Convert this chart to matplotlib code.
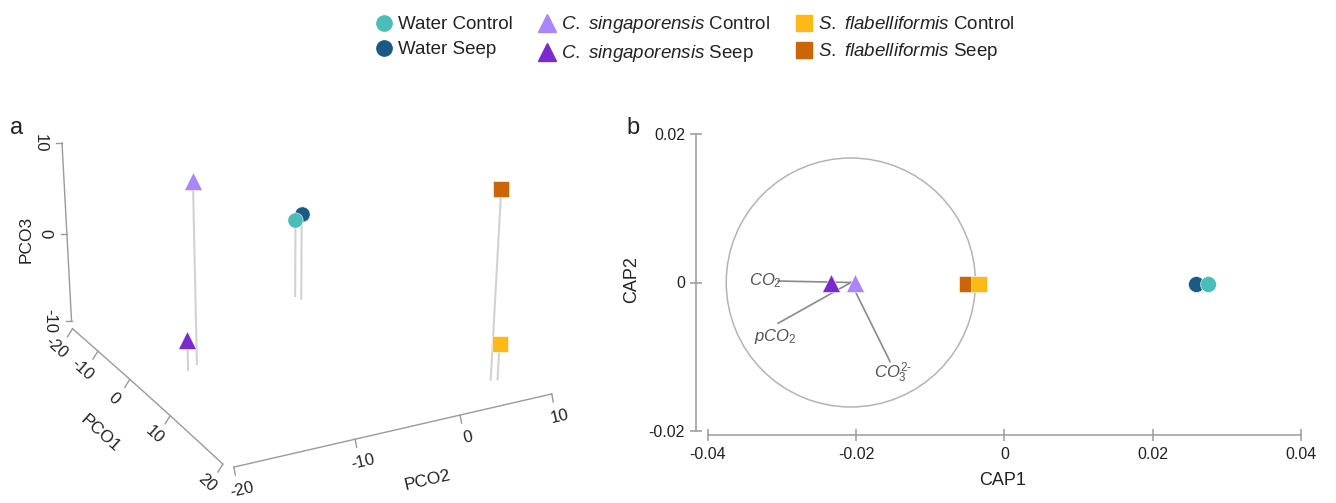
import numpy as np
import matplotlib
matplotlib.use("Agg")
import matplotlib.pyplot as plt
from matplotlib.lines import Line2D
from matplotlib.patches import Circle

plt.rcParams['font.family'] = ['Liberation Sans', 'DejaVu Sans']
plt.rcParams['mathtext.fontset'] = 'custom'
plt.rcParams['mathtext.rm'] = 'Liberation Sans'
plt.rcParams['mathtext.it'] = 'Liberation Sans:italic'

# ---------------- data ----------------
groups = ["Water Control", "Water Seep",
          "C. singaporensis Control", "C. singaporensis Seep",
          "S. flabelliformis Control", "S. flabelliformis Seep"]
legend_labels = ["Water Control", "Water Seep",
                 r"$\mathit{C.}$ $\mathit{singaporensis}$ Control",
                 r"$\mathit{C.}$ $\mathit{singaporensis}$ Seep",
                 r"$\mathit{S.}$ $\mathit{flabelliformis}$ Control",
                 r"$\mathit{S.}$ $\mathit{flabelliformis}$ Seep"]
colors = ["#4ABDB8", "#1A5A84", "#AA85FB", "#7A2BD0", "#FDBA17", "#CC6408"]
markers = ["o", "o", "^", "^", "s", "s"]

# panel a: PCO scores
pco1 = [-21.4, -19.6, -1.2, 0.0, 15.3, 15.1]
pco2 = [11.7, 11.5, -12.6, -14.1, 9.3, 8.7]
pco3 = [0.1, 1.0, 7.3, -7.1, -6.85, 6.4]
pco1_ticks = [-20, -10, 0, 10, 20]
pco2_ticks = [-20, -10, 0, 10]
pco3_ticks = [-10, 0, 10]

# panel b: CAP scores
cap1 = [0.0274, 0.0258, -0.0202, -0.0234, -0.0034, -0.0050]
cap2 = [-0.0002, -0.0002, 0.0, 0.0, -0.0002, -0.0002]
cap1_ticks = [-0.04, -0.02, 0, 0.02, 0.04]
cap2_ticks = [-0.02, 0, 0.02]
cap1_ticklabels = ["-0.04", "-0.02", "0", "0.02", "0.04"]
cap2_ticklabels = ["-0.02", "0", "0.02"]

vec_names = [r"$\mathit{CO_2}$", r"$\mathit{pCO_2}$", r"$\mathit{CO_3^{2\text{-}}}$"]
vec_x = [-0.0305, -0.0305, -0.0154]
vec_y = [0.0002, -0.0055, -0.0107]
vec_label_x = [-0.0322, -0.0309, -0.0150]
vec_label_y = [0.0003, -0.0073, -0.0122]
vec_origin = (-0.0207, 0.0)
circle_radius = 0.0168

# ---------------- figure ----------------
W, H = 1336, 503
fig = plt.figure(figsize=(W / 100, H / 100), dpi=100)

TXT = "#222222"
AXC = "#9a9a9a"

# ---- panel a: perspective 3-D box drawn on a pixel canvas ----
CAM_X = np.array([312.0, 17.15, 97.5, -7.0])
CAM_Y = np.array([349.2, -17.0, 4.2, -105.0])
CAM_W = np.array([1.0, -0.1212, 0.0511, -0.025])


def project(p1, p2, p3):
    p1, p2, p3 = np.broadcast_arrays(np.asarray(p1, float), np.asarray(p2, float),
                                     np.asarray(p3, float))
    h = np.stack([np.ones_like(p1), p1 / 10.0, p2 / 10.0, (p3 + 10.0) / 10.0])
    w = CAM_W @ h
    return (CAM_X @ h) / w, (CAM_Y @ h) / w


def project_pco1_axis(p1):
    # PCO1 axis is drawn slightly off the box edge near the front corner
    p1 = np.asarray(p1, float)
    u, v = project(p1, -20, -10)
    t = ((p1 + 20) / 40.0) ** 4
    return u - 8 * t, v - 4 * t


axa = fig.add_axes([0, 0, 620 / W, 1])
axa.set_xlim(0, 620)
axa.set_ylim(H, 0)
axa.axis("off")

# z axis (PCO3) at back-left edge
zoff = np.array([-1.0, -8.0])
u, v = project(-20, -20, np.array([-10, 10]))
axa.plot(u + zoff[0], v + zoff[1], color=AXC, lw=1)
u, v = project(-20, -20, pco3_ticks)
for ui, vi, t in zip(u + zoff[0], v + zoff[1], pco3_ticks):
    axa.plot([ui, ui - 6], [vi, vi], color=AXC, lw=1)
    axa.text(ui - 22, vi, f"{t}", rotation=-90, ha="center", va="center",
             fontsize=12, color=TXT)
u, v = project(-20, -20, 0)
axa.text(u - 42, v - 2, "PCO3", rotation=90, ha="center", va="center",
         fontsize=12.5, color=TXT)

# PCO1 axis
u, v = project_pco1_axis(np.linspace(-20, 20, 41))
axa.plot(u, v, color=AXC, lw=1)
u, v = project_pco1_axis(pco1_ticks)
for ui, vi, t in zip(u, v, pco1_ticks):
    axa.plot([ui, ui - 5], [vi, vi + 8], color=AXC, lw=1)
    axa.text(ui - 16, vi + 19, f"{t}", rotation=-42, ha="center", va="center",
             fontsize=12, color=TXT, rotation_mode="anchor")
u, v = project(0, -20, -10)
axa.text(u - 30, v + 54, "PCO1", rotation=-42, ha="center", va="center",
         fontsize=12.5, color=TXT, rotation_mode="anchor")

# PCO2 axis
p2off = np.array([3.0, -1.0])
u, v = project(20, np.array([-20, 10]), -10)
axa.plot(u + p2off[0], v + p2off[1], color=AXC, lw=1)
u, v = project(20, pco2_ticks, -10)
for ui, vi, t in zip(u + p2off[0], v + p2off[1], pco2_ticks):
    axa.plot([ui, ui + 1.5], [vi, vi + 8], color=AXC, lw=1)
    axa.text(ui + 8, vi + 23, f"{t}", rotation=13, ha="center", va="center",
             fontsize=12, color=TXT, rotation_mode="anchor")
u, v = project(20, -3, -10)
axa.text(u, v + 57, "PCO2", rotation=13, ha="center", va="center",
         fontsize=12.5, color=TXT, rotation_mode="anchor")

# drop lines and points
for i in range(len(groups)):
    ub, vb = project(pco1[i], pco2[i], -10)
    ut, vt = project(pco1[i], pco2[i], pco3[i])
    axa.plot([ub, ut], [vb, vt], color="#d2d2d2", lw=1.5, zorder=2)
order = [2, 3, 1, 0, 5, 4]
msa = {"o": 11, "^": 13, "s": 11.5}
for i in order:
    ut, vt = project(pco1[i], pco2[i], pco3[i])
    axa.plot(ut, vt, marker=markers[i], ms=msa[markers[i]], color=colors[i],
             mec="white", mew=0.4, ls="none", zorder=3)

fig.text(17 / W, 1 - 128 / H, "a", fontsize=17, color=TXT, ha="center", va="center")

# ---- panel b: CAP ----
x0, x1 = 695.5, 1310
y0, y1 = 125, 435
axb = fig.add_axes([x0 / W, 1 - y1 / H, (x1 - x0) / W, (y1 - y0) / H])
sx = (1301 - 707.7) / 0.08
sy = (430.7 - 134.3) / 0.04
axb.set_xlim(-0.04 - (707.7 - x0) / sx, 0.04 + (x1 - 1301) / sx)
axb.set_ylim(-0.02 - (y1 - 430.7) / sy, 0.02 + (134.3 - y0) / sy)
for s in ["top", "right"]:
    axb.spines[s].set_visible(False)
for s in ["left", "bottom"]:
    axb.spines[s].set_color(AXC)
    axb.spines[s].set_linewidth(1.1)
axb.spines["left"].set_bounds(-0.02, 0.02)
axb.spines["bottom"].set_bounds(-0.04, 0.04)
axb.set_xticks(cap1_ticks)
axb.set_xticklabels(cap1_ticklabels)
axb.set_yticks(cap2_ticks)
axb.set_yticklabels(cap2_ticklabels)
axb.tick_params(axis="both", direction="inout", length=9, width=1.1, color=AXC,
                labelsize=11.5, labelcolor=TXT)
axb.tick_params(axis="x", pad=4)
axb.tick_params(axis="y", pad=3)
axb.set_xlabel("CAP1", fontsize=13, color=TXT, labelpad=7)
axb.set_ylabel("CAP2", fontsize=13, color=TXT, labelpad=6)
axb.patch.set_alpha(0)

axb.add_patch(Circle(vec_origin, circle_radius, fill=False, ec="#b4b4b4", lw=1.1))
for xe, ye in zip(vec_x, vec_y):
    axb.plot([vec_origin[0], xe], [vec_origin[1], ye], color="#8a8a8a", lw=1.2, zorder=2)
for name, lx, ly in zip(vec_names, vec_label_x, vec_label_y):
    axb.text(lx, ly, name, ha="center", va="center", fontsize=12, color="#555555")

msb = {"o": 11.5, "^": 13, "s": 11.5}
for i in order:
    axb.plot(cap1[i], cap2[i], marker=markers[i], ms=msb[markers[i]], color=colors[i],
             mec="white", mew=0.4, ls="none", zorder=3)

fig.text(633 / W, 1 - 128 / H, "b", fontsize=17, color=TXT, ha="center", va="center")

# ---- legend ----
handles = [Line2D([], [], marker=m, color=c, ls="none",
                  ms={"o": 11, "^": 13, "s": 11.5}[m]) for m, c in zip(markers, colors)]
fig.legend(handles, legend_labels, ncol=3, loc="upper center",
           bbox_to_anchor=(0.52, 1.0 - 2 / H), frameon=False, fontsize=13.5,
           handletextpad=0.25, columnspacing=1.3, labelspacing=0.42,
           handlelength=1.0, borderaxespad=0.25, labelcolor=TXT)

fig.savefig("out.png", dpi=100)
